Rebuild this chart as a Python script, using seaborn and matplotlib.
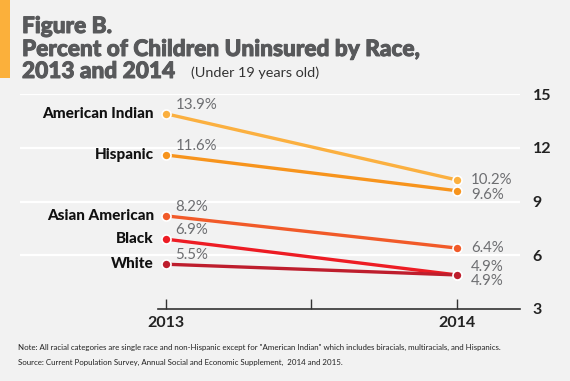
import matplotlib
matplotlib.use("Agg")
import matplotlib.pyplot as plt
import matplotlib.patheffects as pe
import seaborn as sns
import pandas as pd
from matplotlib.patches import Rectangle

races = ["American Indian", "Hispanic", "Asian American", "Black", "White"]
years = [2013, 2014]
vals_2013 = [13.9, 11.6, 8.2, 6.9, 5.5]
vals_2014 = [10.2, 9.6, 6.4, 4.9, 4.9]
colors = ["#fbb040", "#f7941d", "#f15a29", "#ed1c24", "#be1e2d"]
yticks = [3, 6, 9, 12, 15]

rows = []
for r, a, b in zip(races, vals_2013, vals_2014):
    rows.append({"race": r, "year": years[0], "value": a})
    rows.append({"race": r, "year": years[1], "value": b})
df = pd.DataFrame(rows)

sns.set_theme(style="white")
plt.rcParams["font.family"] = ["Lato", "DejaVu Sans"]

bg = "#f2f2f2"
fig = plt.figure(figsize=(5.7, 3.81), dpi=100, facecolor=bg)
ax = fig.add_axes([20/570, 1-309/381, 500/570, 215/381], facecolor=bg)

# grid
for yv in yticks[1:]:
    ax.axhline(yv, color="white", lw=1.6, zorder=0)

sns.lineplot(data=df, x="year", y="value", hue="race", hue_order=races,
             palette=colors, linewidth=2.4, marker="o", markersize=6.5,
             markeredgecolor="white", markeredgewidth=1.2, legend=False,
             ax=ax, clip_on=False)

ax.set_xlim(2012.5, 2014.216)
ax.set_ylim(3, 15)
for s in ["top", "left", "right"]:
    ax.spines[s].set_visible(False)
ax.spines["bottom"].set_bounds(2012.973, 2014.216)
ax.spines["bottom"].set_color("#333333")
ax.spines["bottom"].set_linewidth(1.2)

ax.set_xticks([2013, 2013.5, 2014])
ax.set_xticklabels(["2013", "", "2014"], fontsize=11.5, fontweight="bold", color="#222222")
ax.tick_params(axis="x", direction="in", length=7, width=1, color="#333333", pad=5, bottom=True)
ax.yaxis.tick_right()
ax.set_yticks(yticks)
ax.set_yticklabels([str(t) for t in yticks], fontsize=11.5, fontweight="bold", color="#222222")
ax.tick_params(axis="y", length=0, pad=9)
ax.set_xlabel("")
ax.set_ylabel("")

grey = "#6d6e71"
right_offsets = [0, -3, 0, 5.5, -4.5]
for r, a, b, ro in zip(races, vals_2013, vals_2014, right_offsets):
    ax.annotate(r, (2013, a), xytext=(-8.5, 0), textcoords="offset points",
                ha="right", va="center", fontsize=11, fontweight="black", color="#111111")
    ax.annotate(f"{a}%", (2013, a), xytext=(7, 6.5), textcoords="offset points",
                ha="left", va="center", fontsize=10.8, color=grey)
    ax.annotate(f"{b}%", (2014, b), xytext=(10, ro), textcoords="offset points",
                ha="left", va="center", fontsize=10.8, color=grey)

# title block
fig.patches.append(Rectangle((0, 1-78/381), 10/570, 78/381, transform=fig.transFigure,
                             facecolor="#fbb03b", edgecolor="none"))
tcol = "#58595b"
for txt, yb in [("Figure B.", 33), ("Percent of Children Uninsured by Race,", 56), ("2013 and 2014", 78)]:
    fig.text(22/570, 1-yb/381, txt, fontsize=16.3, fontweight="black", color=tcol, va="baseline",
             path_effects=[pe.withStroke(linewidth=0.7, foreground=tcol)])
fig.text(191/570, 1-77/381, "(Under 19 years old)", fontsize=10.4, color="#333333", va="baseline")

fig.text(18/570, 1-350/381, 'Note: All racial categories are single race and non-Hispanic except for "American Indian" which includes biracials, multiracials, and Hispanics.',
         fontsize=5.7, color="#222222", va="baseline")
fig.text(18/570, 1-365/381, "Source: Current Population Survey, Annual Social and Economic Supplement,  2014 and 2015.",
         fontsize=5.7, color="#222222", va="baseline")

fig.savefig("out.png", dpi=100, facecolor=bg)
